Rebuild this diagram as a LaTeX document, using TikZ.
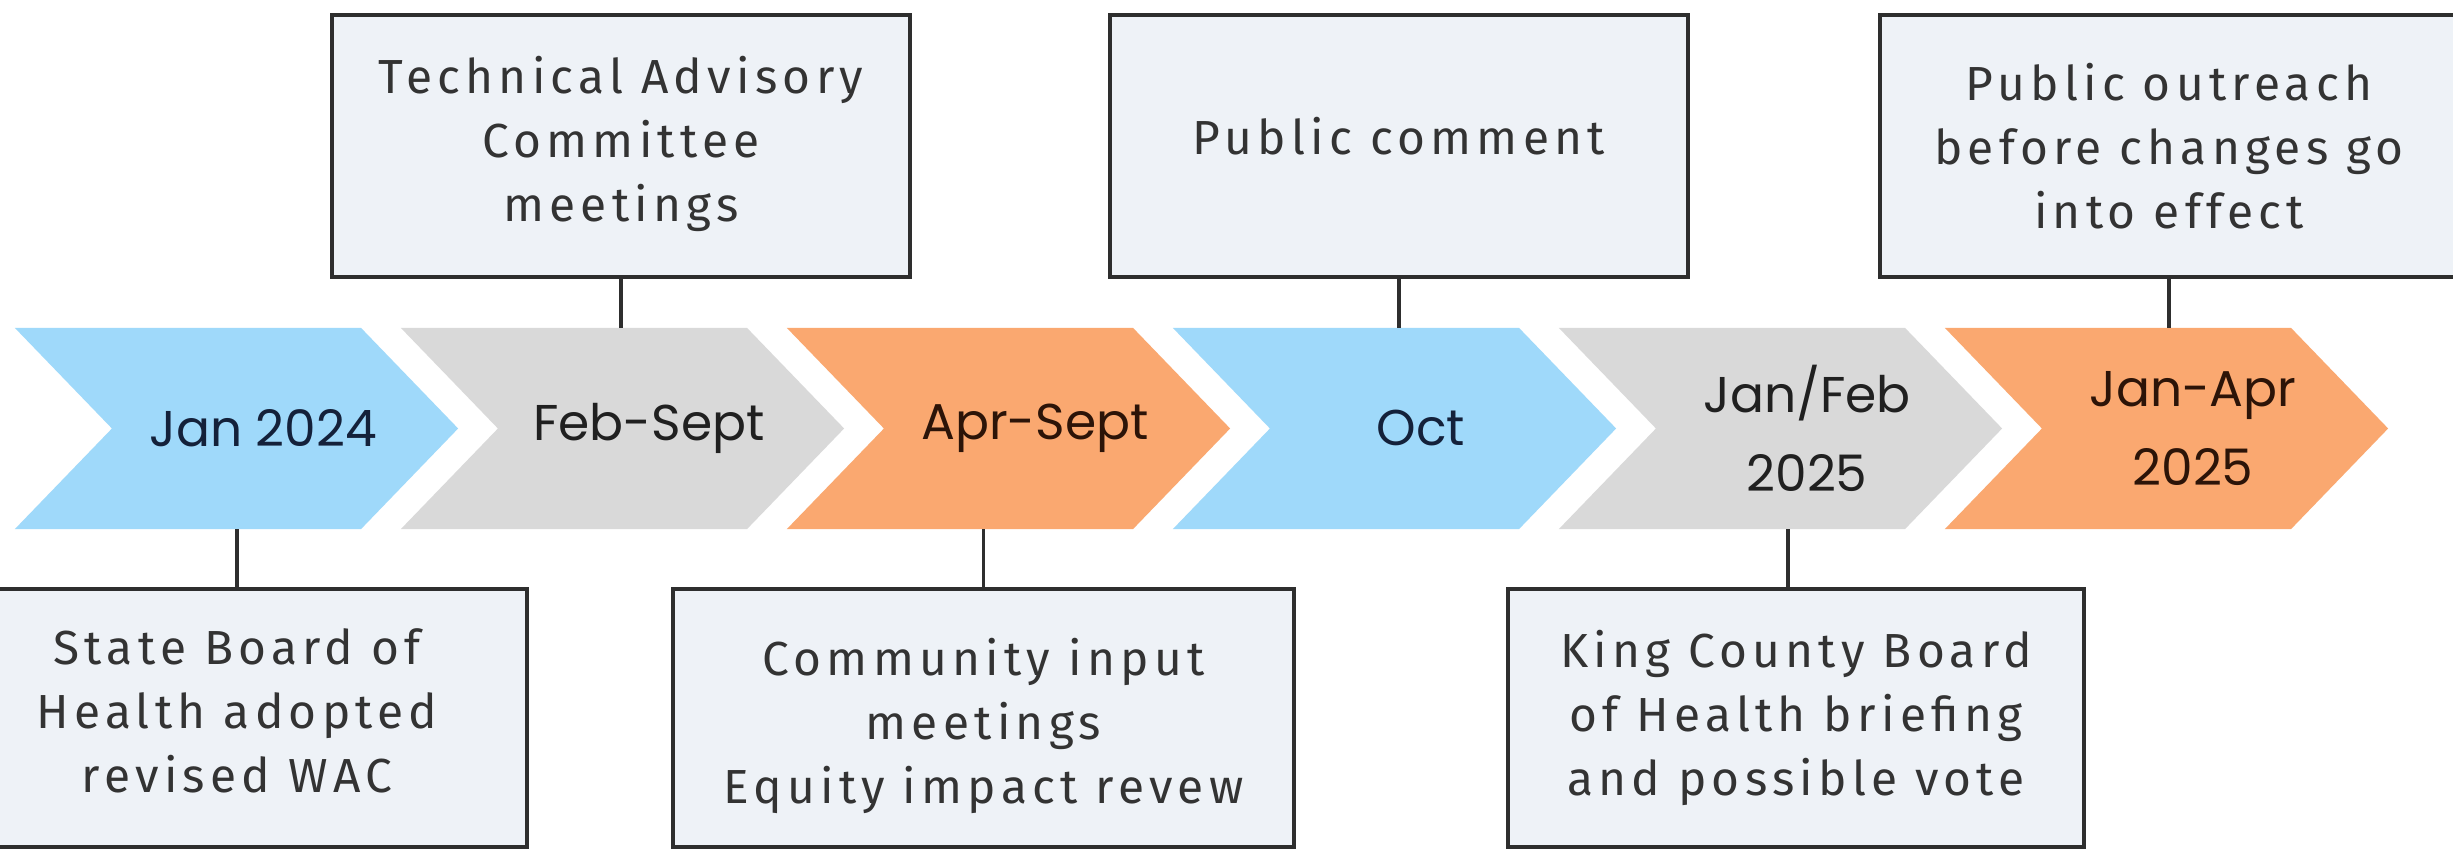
\documentclass[tikz,border=0pt]{standalone}
\usepackage{fontspec}
\newfontfamily\boxfont[LetterSpace=11]{Fira Sans}
\newfontfamily\chevfont{Poppins}
\definecolor{chblue}{HTML}{9FD9FA}
\definecolor{chgray}{HTML}{D9D9D9}
\definecolor{chorange}{HTML}{FAA870}
\definecolor{boxfill}{HTML}{EEF2F7}
\definecolor{boxline}{HTML}{2E2E2E}
\definecolor{boxtext}{HTML}{333333}
\definecolor{navytext}{HTML}{14213A}
\definecolor{browntext}{HTML}{2C1408}
\definecolor{graytext}{HTML}{202020}
\begin{document}
\begin{tikzpicture}[x=0.01cm,y=-0.01cm,
  chev/.style={minimum width=4.43cm, minimum height=2.01cm, inner sep=0pt, outer sep=0pt},
  chevtext/.style={font=\chevfont\fontsize{14.3}{22.5}\selectfont, align=center, inner sep=0pt},
  infobox/.style={draw=boxline, line width=1pt, fill=boxfill, minimum width=5.78cm, minimum height=2.62cm, inner sep=0pt},
  boxlabel/.style={inner sep=0pt, align=center, text=boxtext, font=\boxfont\fontsize{13.6}{18.1}\selectfont},
  link/.style={draw=boxline, line width=1pt}]
\useasboundingbox (0,0) rectangle (2453,849);
\clip (0,0) rectangle (2453,849);
\fill[white] (0,0) rectangle (2453,849);
% chevrons
\foreach \n/\cx/\col in {ch1/236.5/chblue, ch2/622.5/chgray, ch3/1008.5/chorange, ch4/1394.5/chblue, ch5/1780.5/chgray, ch6/2166.5/chorange}{
  \node[chev] (\n) at (\cx,428.5) {};
  \fill[\col] (\n.north west) -- ([xshift=-0.97cm]\n.north east) -- (\n.east) -- ([xshift=-0.97cm]\n.south east) -- (\n.south west) -- ([xshift=0.97cm]\n.west) -- cycle;
}
\node[chevtext, text=navytext] (t1) at ([xshift=0.265cm]ch1.center) {Jan 2024};
\node[chevtext, text=graytext] (t2) at ([xshift=0.265cm]ch2.center) {Feb-Sept};
\node[chevtext, text=browntext] (t3) at ([xshift=0.265cm]ch3.center) {Apr-Sept};
\node[chevtext, text=navytext] (t4) at ([xshift=0.265cm]ch4.center) {Oct};
\node[chevtext, text=graytext] (t5) at ([xshift=0.265cm]ch5.center) {Jan/Feb\\2025};
\node[chevtext, text=browntext] (t6) at ([xshift=0.265cm]ch6.center) {Jan-Apr\\2025};
% boxes
\node[infobox] (tac) at (621,146) {};
\node[infobox] (pc) at (1399,146) {};
\node[infobox] (po) at (2169,146) {};
\node[infobox, minimum width=5.80cm, minimum height=2.58cm] (sb) at (237,718) {};
\node[infobox, minimum width=6.21cm, minimum height=2.58cm] (ci) at (983.5,718) {};
\node[infobox, minimum width=5.76cm, minimum height=2.58cm] (kc) at (1796,718) {};
% box texts
\node[boxlabel] (tacl) at ([yshift=0.02cm]tac.center) {Technical Advisory\\Committee\\meetings};
\node[boxlabel] (pcl) at ([yshift=0.1cm]pc.center) {Public comment};
\node[boxlabel] (pol) at (po.center) {Public outreach\\before changes go\\into effect};
\node[boxlabel] (sbl) at ([yshift=0.07cm]sb.center) {State Board of\\Health adopted\\revised WAC};
\node[boxlabel] (cil) at ([yshift=-0.08cm]ci.center) {Community input\\meetings\\Equity impact revew};
\node[boxlabel] (kcl) at (kc.center) {King County Board\\of Health briefing\\and possible vote};
% connectors
\draw[link] (tac.south) -- (tac.south |- ch2.north);
\draw[link] (pc.south) -- (pc.south |- ch4.north);
\draw[link] (po.south) -- (po.south |- ch6.north);
\draw[link] (sb.north) -- (sb.north |- ch1.south);
\draw[link] (ci.north) -- (ci.north |- ch3.south);
\draw[link] ([xshift=-0.08cm]kc.north) -- ([xshift=-0.08cm]kc.north |- ch5.south);
\end{tikzpicture}
\end{document}
